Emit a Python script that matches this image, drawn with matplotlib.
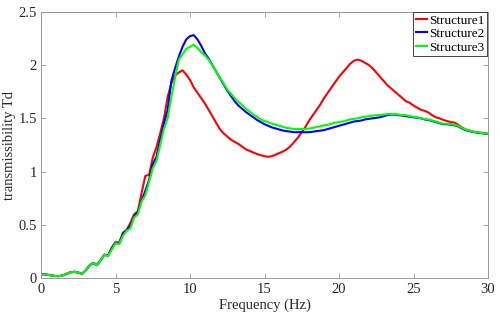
import numpy as np
import matplotlib
matplotlib.use('Agg')
import matplotlib.pyplot as plt

plt.rcParams['font.family'] = ['Liberation Serif', 'DejaVu Serif']

# frequency grid (Hz), one value every 0.25 Hz
freq = np.arange(0, 30.001, 0.25)

# shared low-frequency part (0 - 4.25 Hz)
low = [0.040, 0.038, 0.033, 0.027, 0.022, 0.022, 0.030, 0.045, 0.058, 0.062,
       0.055, 0.042, 0.075, 0.120, 0.145, 0.125, 0.170, 0.222]

s1_rest = [0.215, 0.29, 0.34, 0.335, 0.43, 0.455, 0.52, 0.60, 0.63, 0.80,
           0.96, 0.97, 1.13, 1.23, 1.36, 1.50, 1.70, 1.83, 1.90, 1.93,
           1.95, 1.91, 1.86, 1.79, 1.74, 1.69, 1.64, 1.58, 1.52, 1.46,
           1.40, 1.36, 1.33, 1.30, 1.28, 1.26, 1.235, 1.21, 1.195, 1.18,
           1.165, 1.155, 1.145, 1.14, 1.145, 1.16, 1.175, 1.19, 1.21, 1.24,
           1.28, 1.32, 1.37, 1.42, 1.48, 1.53, 1.58, 1.63, 1.69, 1.74,
           1.79, 1.84, 1.89, 1.93, 1.97, 2.01, 2.04, 2.05, 2.04, 2.02,
           2.00, 1.97, 1.93, 1.89, 1.85, 1.81, 1.78, 1.75, 1.72, 1.69,
           1.66, 1.645, 1.62, 1.60, 1.58, 1.57, 1.555, 1.53, 1.51, 1.50,
           1.485, 1.475, 1.465, 1.46, 1.44, 1.415, 1.395, 1.385, 1.375, 1.37,
           1.365, 1.36, 1.355]

s2_rest = [0.215, 0.28, 0.335, 0.325, 0.42, 0.45, 0.49, 0.58, 0.62, 0.73,
           0.82, 0.92, 1.07, 1.14, 1.30, 1.45, 1.58, 1.85, 1.97, 2.08,
           2.17, 2.24, 2.27, 2.28, 2.24, 2.18, 2.11, 2.06, 2.00, 1.94,
           1.88, 1.82, 1.76, 1.71, 1.66, 1.62, 1.59, 1.56, 1.535, 1.51,
           1.485, 1.465, 1.445, 1.43, 1.415, 1.405, 1.395, 1.385, 1.38, 1.375,
           1.37, 1.37, 1.37, 1.37, 1.37, 1.375, 1.38, 1.385, 1.39, 1.40,
           1.41, 1.42, 1.43, 1.44, 1.45, 1.46, 1.47, 1.475, 1.48, 1.49,
           1.495, 1.50, 1.505, 1.51, 1.52, 1.53, 1.535, 1.535, 1.53, 1.525,
           1.52, 1.515, 1.51, 1.505, 1.50, 1.49, 1.485, 1.475, 1.465, 1.455,
           1.445, 1.445, 1.44, 1.435, 1.425, 1.405, 1.39, 1.38, 1.372, 1.367,
           1.362, 1.358, 1.353]

s3_rest = [0.21, 0.27, 0.33, 0.32, 0.40, 0.445, 0.47, 0.57, 0.60, 0.72,
           0.78, 0.90, 1.03, 1.10, 1.25, 1.40, 1.50, 1.70, 1.88, 2.05,
           2.10, 2.15, 2.17, 2.19, 2.16, 2.12, 2.09, 2.05, 2.00, 1.94,
           1.88, 1.83, 1.77, 1.73, 1.69, 1.655, 1.625, 1.59, 1.565, 1.535,
           1.515, 1.49, 1.475, 1.465, 1.45, 1.44, 1.43, 1.42, 1.41, 1.405,
           1.40, 1.40, 1.40, 1.40, 1.405, 1.41, 1.42, 1.425, 1.435, 1.44,
           1.45, 1.46, 1.465, 1.47, 1.48, 1.49, 1.495, 1.50, 1.51, 1.515,
           1.52, 1.525, 1.53, 1.53, 1.535, 1.54, 1.54, 1.54, 1.535, 1.53,
           1.53, 1.52, 1.515, 1.51, 1.50, 1.495, 1.49, 1.48, 1.47, 1.46,
           1.45, 1.45, 1.445, 1.44, 1.43, 1.41, 1.395, 1.385, 1.375, 1.37,
           1.365, 1.36, 1.355]

structure1 = low + s1_rest
structure2 = low + s2_rest
structure3 = low + s3_rest

fig = plt.figure(figsize=(5.0, 3.23), dpi=100)
ax = fig.add_axes([0.082, 0.138, 0.894, 0.826])

ax.plot(freq, structure1, color='#ff0000', lw=1.5, label='Structure1')
ax.plot(freq, structure2, color='#0000ff', lw=1.5, label='Structure2')
ax.plot(freq, structure3, color='#00ff00', lw=1.5, label='Structure3')

ax.set_xlim(0, 30)
ax.set_ylim(0, 2.5)
ax.set_xticks([0, 5, 10, 15, 20, 25, 30])
ax.set_yticks([0, 0.5, 1, 1.5, 2, 2.5])
ax.set_yticklabels(['0', '0.5', '1', '1.5', '2', '2.5'])
ax.tick_params(direction='in', top=True, right=True, length=3.5, width=0.6,
               color='#999999', labelsize=10.5, labelcolor='#262626', pad=3)
for sp in ax.spines.values():
    sp.set_color('#999999')
    sp.set_linewidth(0.7)

ax.set_xlabel('Frequency (Hz)', fontsize=10.5, color='#262626', labelpad=2)
ax.set_ylabel('transmissibility Td', fontsize=10.5, color='#262626', labelpad=2)

leg = ax.legend(loc='upper right', bbox_to_anchor=(0.997, 1.0), borderaxespad=0,
                fancybox=False, edgecolor='#262626', framealpha=1,
                fontsize=9.5, handlelength=0.85, handletextpad=0.1,
                labelspacing=0.1, borderpad=0.2)
leg.get_frame().set_linewidth(0.6)

fig.savefig('out.png', dpi=100)
